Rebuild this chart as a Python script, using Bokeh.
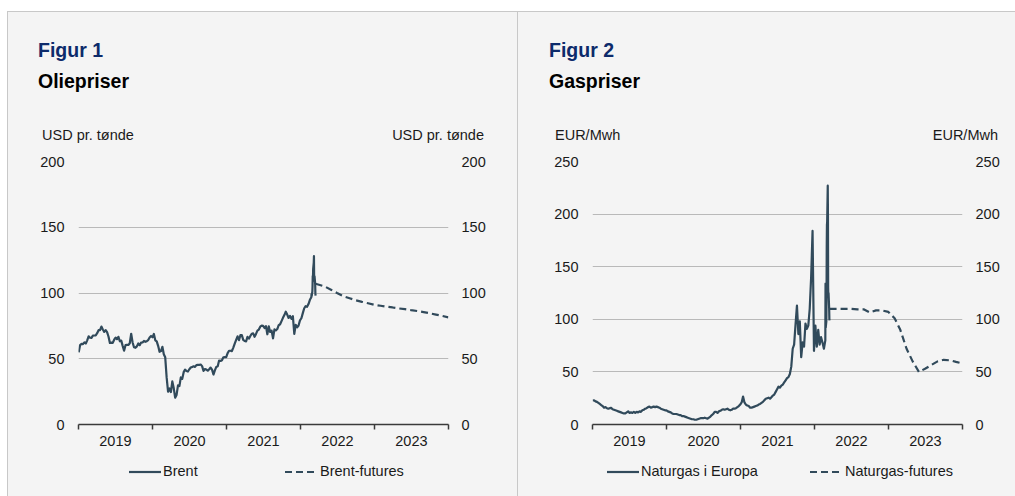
import pandas as pd
from bokeh.plotting import figure
from bokeh.models import (Range1d, FixedTicker, CustomJSTickFormatter, LinearAxis,
                          Div, ColumnDataSource)
from bokeh.layouts import row, column
from bokeh.embed import file_html
from bokeh.resources import INLINE

year_labels = ["2019", "2020", "2021", "2022", "2023"]
brent_2019 = [54.9, 60.4, 61.3, 61.1, 62.5, 61.6, 64.0, 67.1, 66.0, 65.9, 67.6, 67.7, 67.8, 69.4,
              71.7, 71.7, 74.5, 72.2, 70.4, 71.8, 70.2, 66.9, 62.0, 62.3, 62.1, 64.5, 66.1, 64.9,
              66.7, 63.3, 63.8, 59.8, 56.2, 60.3, 60.5, 60.5, 61.8, 69.0, 62.4, 58.7, 58.3, 59.4,
              61.6, 60.3, 62.3, 62.4, 63.5, 62.9, 63.4, 64.2, 66.2, 67.3]
brent_2020 = [66.3, 68.9, 64.0, 63.2, 59.8, 55.3, 55.8, 59.1, 53.4, 51.1, 35.8, 24.9, 27.4, 24.7,
              32.8, 27.7, 20.4, 22.5, 29.7, 29.2, 35.8, 34.7, 39.8, 41.7, 40.7, 40.3, 42.0, 43.3,
              43.8, 44.3, 43.8, 45.2, 45.4, 45.4, 45.6, 44.4, 40.8, 42.2, 41.8, 40.9, 42.0, 43.3,
              41.7, 38.0, 41.2, 43.8, 44.3, 48.6, 48.3, 48.9, 51.1, 51.2, 51.3]
brent_2021 = [54.3, 56.1, 56.1, 55.8, 58.5, 61.5, 64.3, 67.0, 64.1, 67.9, 68.0, 64.4, 63.5, 63.2,
              66.6, 65.3, 67.3, 69.0, 69.3, 66.7, 68.9, 71.4, 72.2, 74.4, 75.2, 75.0, 73.4, 74.8,
              68.6, 74.7, 70.4, 71.4, 65.5, 72.3, 71.6, 72.6, 75.5, 76.2, 78.6, 81.1, 83.2, 85.8,
              83.6, 81.0, 82.6, 80.3, 82.3, 68.9, 75.8, 73.9, 75.3, 79.2]
brent_2022 = [80.8, 84.7, 88.4, 90.0, 89.5, 91.6, 94.8, 96.8]
gas_2019 = [22.8, 23.0, 22.0, 21.5, 20.5, 19.5, 18.5, 17.5, 16.0, 16.5, 15.5, 15.0, 15.5, 15.8,
            14.5, 14.0, 13.5, 13.0, 12.5, 12.0, 11.5, 11.0, 10.5, 10.5, 11.5, 12.5, 11.0, 11.5,
            11.0, 12.0, 11.0, 12.0, 11.5, 12.5, 12.0, 13.5, 14.0, 15.0, 15.5, 16.5, 17.0, 16.0,
            16.5, 17.0, 16.5, 17.0, 16.5, 16.0, 15.0, 14.5, 14.0, 13.5]
gas_2020 = [13.5, 12.5, 12.0, 11.5, 10.5, 10.0, 10.0, 10.0, 9.5, 9.0, 9.0, 8.0, 8.0, 7.5,
            7.0, 6.5, 6.0, 5.5, 5.0, 5.0, 4.5, 4.5, 5.0, 5.5, 6.0, 6.0, 6.0, 6.5,
            6.0, 5.5, 6.5, 7.5, 9.0, 10.0, 12.0, 12.0, 11.0, 12.5, 13.0, 14.0, 14.5, 14.0,
            14.5, 15.0, 14.0, 13.5, 14.0, 15.0, 15.0, 15.5, 16.5, 17.5, 19.0]
gas_2021 = [21.0, 26.5, 21.0, 19.0, 18.0, 17.5, 16.0, 16.0, 16.5, 17.0, 17.5, 18.0, 19.0, 19.5,
            20.5, 21.5, 23.0, 24.5, 25.0, 25.5, 24.5, 26.0, 27.5, 28.5, 31.0, 33.5, 36.0, 35.0,
            37.0, 38.0, 40.0, 42.0, 44.0, 45.0, 48.0, 55.0, 72.0, 76.0, 95.0, 113.0, 86.0, 98.0,
            64.0, 78.0, 74.0, 96.0, 91.0, 94.0, 110.0, 140.0, 184.0, 70.0]
gas_2022 = [94.0, 74.0, 90.0, 76.0, 83.0, 78.0, 72.0, 80.0]
tail_dates = ["2022-02-24", "2022-02-25", "2022-02-28", "2022-03-01", "2022-03-02", "2022-03-03",
              "2022-03-04", "2022-03-07", "2022-03-08", "2022-03-09", "2022-03-10", "2022-03-11",
              "2022-03-14", "2022-03-15", "2022-03-16"]
brent_tail = [99.1, 97.9, 101.0, 105.0, 112.9, 110.5, 118.1, 123.2, 128.0, 111.1, 109.3, 112.7,
              106.9, 99.9, 98.0]
gas_tail = [134.0, 92.0, 98.0, 122.0, 170.0, 190.0, 192.0, 227.0, 200.0, 130.0, 122.0, 125.0,
            110.0, 100.0, 99.0]
futures_dates = ["2022-03-16", "2022-04-30", "2022-05-31", "2022-06-30", "2022-07-31", "2022-08-31",
                 "2022-09-30", "2022-10-31", "2022-11-30", "2022-12-31", "2023-01-31", "2023-02-28",
                 "2023-03-31", "2023-04-30", "2023-05-31", "2023-06-30", "2023-07-31", "2023-08-31",
                 "2023-09-30", "2023-10-31", "2023-11-30", "2023-12-31"]
brent_futures = [107.0, 105.0, 102.5, 100.0, 97.5, 96.0, 94.5, 93.3, 92.2, 91.0, 90.3, 89.6,
                 89.0, 88.3, 87.7, 87.0, 86.3, 85.5, 84.6, 83.6, 82.6, 81.5]
gas_futures = [110.0, 110.0, 110.0, 110.0, 109.5, 109.5, 106.5, 108.5, 108.5, 107.0, 101.0, 90.0,
               72.0, 60.0, 50.0, 53.0, 56.5, 60.0, 61.5, 61.0, 59.5, 58.0]

FONT = "Liberation Sans"
LINE = "#314a5b"
BG = "#f4f4f4"
NAVY = "#0d2b6b"
GRID = "#b9b9b9"
BORDER = "#c8c8c8"
TXT = "#1a1a1a"
X0, X1 = "2019-01-01", "2024-01-01"
HEAD_H = 137
BOTTOM = 34
LEG_H = 484 - HEAD_H - (12 + 263 + BOTTOM)


def ms(d):
    return pd.Timestamp(d).value / 1e6


def hist_series(weekly, tail):
    wk = pd.date_range("2019-01-02", periods=len(weekly), freq="7D")
    xs = [ts.value / 1e6 for ts in wk] + [ms(d) for d in tail_dates]
    return xs, list(weekly) + list(tail)


BASE = (f"position:absolute;white-space:nowrap;line-height:1;"
        f"font-family:'{FONT}',Arial,sans-serif;")


def header(fig_title, sub_title, unit, width, tx, ux, urx):
    html = (
        f'<div style="position:relative;width:{width}px;height:{HEAD_H}px;">'
        f'<div style="{BASE}left:{tx}px;top:28.5px;font-size:19.5px;font-weight:bold;color:{NAVY};">{fig_title}</div>'
        f'<div style="{BASE}left:{tx}px;top:59.8px;font-size:19.5px;font-weight:bold;color:#000;">{sub_title}</div>'
        f'<div style="{BASE}left:{ux}px;top:116.2px;font-size:14.5px;color:{TXT};">{unit}</div>'
        f'<div style="{BASE}right:{urx}px;top:116.2px;font-size:14.5px;color:{TXT};">{unit}</div>'
        '</div>'
    )
    return Div(text=html, width=width, height=HEAD_H,
               styles={"background-color": BG, "margin": "0", "padding": "0"})


def legend_div(labels, width, x_solid, x_dash):
    def sample(x, dash):
        da = ' stroke-dasharray="7 4"' if dash else ""
        return (f'<svg style="position:absolute;left:{x}px;top:11.7px;" width="32" height="4">'
                f'<line x1="0" y1="2" x2="32" y2="2" stroke="{LINE}" stroke-width="2.2"{da}/></svg>')

    html = (
        f'<div style="position:relative;width:{width}px;height:{LEG_H}px;">'
        + sample(x_solid, False)
        + f'<div style="{BASE}left:{x_solid + 34}px;top:6.4px;font-size:14.5px;color:{TXT};">{labels[0]}</div>'
        + sample(x_dash, True)
        + f'<div style="{BASE}left:{x_dash + 35}px;top:6.4px;font-size:14.5px;color:{TXT};">{labels[1]}</div>'
        + '</div>'
    )
    return Div(text=html, width=width, height=LEG_H,
               styles={"background-color": BG, "margin": "0", "padding": "0"})


def make_chart(hist, fut, ymax, bl, br):
    hx, hy = hist
    fx = [ms(d) for d in futures_dates]
    yt = list(range(0, ymax + 1, 50))
    p = figure(frame_width=370, frame_height=263,
               min_border_left=bl, min_border_right=br, min_border_top=12, min_border_bottom=BOTTOM,
               x_range=Range1d(ms(X0), ms(X1)), y_range=Range1d(0, ymax),
               x_axis_type="datetime", toolbar_location=None, output_backend="svg",
               background_fill_color=BG, border_fill_color=BG, outline_line_color=None)
    p.xgrid.visible = False
    p.ygrid.ticker = FixedTicker(ticks=yt)
    p.ygrid.grid_line_color = GRID
    p.ygrid.grid_line_width = 1

    xa = p.xaxis[0]
    xa.ticker = FixedTicker(ticks=[ms(f"{y}-07-02") for y in year_labels],
                            minor_ticks=[ms(f"{y}-01-01") for y in range(2019, 2025)])
    xa.formatter = CustomJSTickFormatter(code="return String(new Date(tick).getUTCFullYear());")
    xa.major_tick_in = 0
    xa.major_tick_out = 0
    xa.minor_tick_in = 0
    xa.minor_tick_out = 5
    xa.minor_tick_line_color = "#3a3a3a"
    xa.minor_tick_line_width = 1.5
    xa.axis_line_color = "#3a3a3a"
    xa.axis_line_width = 1.5
    xa.major_label_standoff = 6
    xa.major_label_text_font = FONT
    xa.major_label_text_font_size = "14.5px"
    xa.major_label_text_color = TXT

    ya = p.yaxis[0]
    ra = LinearAxis()
    p.add_layout(ra, "right")
    for ax, so in ((ya, 14), (ra, 13)):
        ax.ticker = FixedTicker(ticks=yt)
        ax.axis_line_color = None
        ax.major_tick_in = 0
        ax.major_tick_out = 0
        ax.minor_tick_line_color = None
        ax.major_label_standoff = so
        ax.major_label_text_font = FONT
        ax.major_label_text_font_size = "14.5px"
        ax.major_label_text_color = TXT

    p.line("x", "y", source=ColumnDataSource(dict(x=hx, y=hy)),
           line_color=LINE, line_width=2.2, line_join="round")
    p.line("x", "y", source=ColumnDataSource(dict(x=fx, y=fut)),
           line_color=LINE, line_width=2.2, line_dash="7 4")
    return p


h1 = header("Figur 1", "Oliepriser", "USD pr. tønde", 509, 30, 34, 33)
c1 = make_chart(hist_series(brent_2019 + brent_2020 + brent_2021 + brent_2022, brent_tail),
                brent_futures, 200, 70, 69)
l1 = legend_div(("Brent", "Brent-futures"), 509, 121, 277)
h2 = header("Figur 2", "Gaspriser", "EUR/Mwh", 497, 31, 37, 17)
c2 = make_chart(hist_series(gas_2019 + gas_2020 + gas_2021 + gas_2022, gas_tail),
                gas_futures, 250, 74, 53)
l2 = legend_div(("Naturgas i Europa", "Naturgas-futures"), 497, 89, 292)

edge = {"border-top": f"1px solid {BORDER}", "border-left": f"1px solid {BORDER}",
        "background-color": BG}
col1 = column(h1, c1, l1, spacing=0, margin=(11, 0, 0, 7), styles=edge)
col2 = column(h2, c2, l2, spacing=0, margin=(11, 0, 0, 0), styles=edge)
layout = row(col1, col2, spacing=0)
open("out.html", "w").write(file_html(layout, INLINE))
